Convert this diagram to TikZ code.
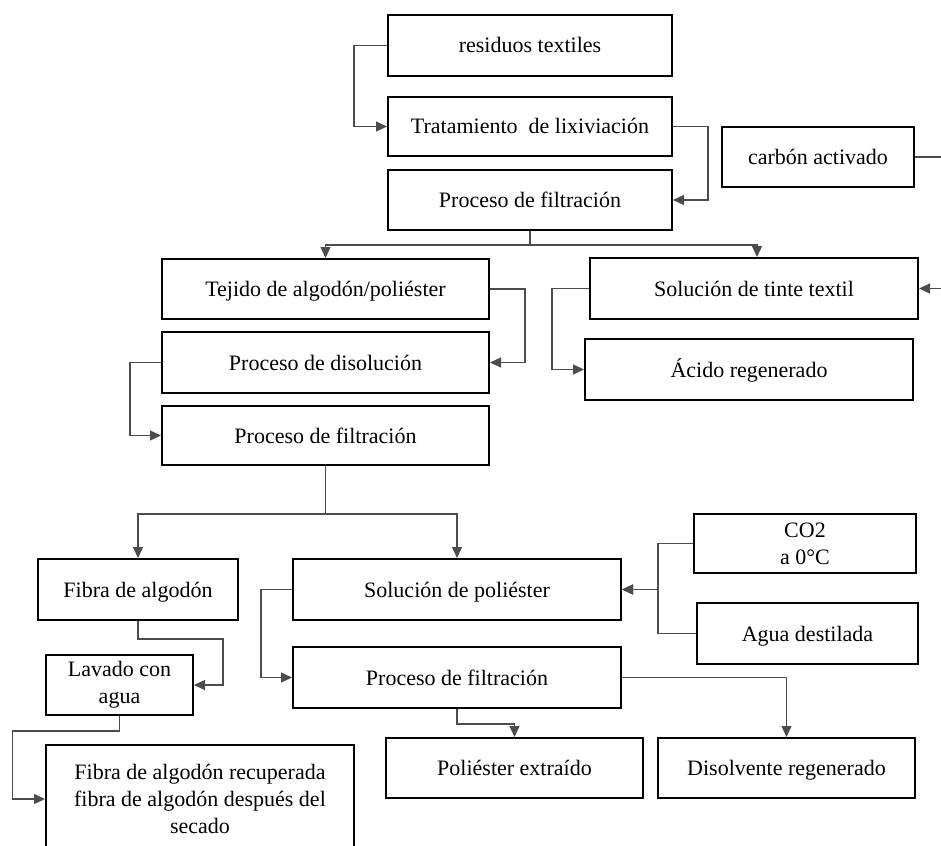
\documentclass[tikz,border=0pt]{standalone}
\usepackage{fontspec}
\setmainfont{Liberation Serif}
\usetikzlibrary{arrows.meta}
\newcommand\bx[7][]{\node[box,#1, minimum width={#5pt-#3pt}, minimum height={#6pt-#4pt}] (#2) at ({(#3+#5)/2},{(#4+#6)/2}) {#7};}
\begin{document}
\begin{tikzpicture}[x=1pt,y=-1pt,
  box/.style={draw=black, line width=2pt, inner sep=0pt, align=center, font=\fontsize{22}{27}\selectfont},
  one/.style={text height=17pt, text depth=2pt},
  conn/.style={draw=black!70, line width=1.3pt},
  arr/.style={conn, -{Triangle[length=11pt,width=10pt]}}]
\clip (0,0) rectangle (941,845);
\fill[white] (0,0) rectangle (941,845);
\bx[one]{res}{388}{15}{672}{76}{residuos textiles}
\bx[one]{trat}{388}{97}{672}{156}{Tratamiento\ \ de lixiviación}
\bx[one]{filA}{388}{170}{672}{230}{Proceso de filtración}
\bx[one]{carb}{722}{127}{914}{187}{carbón activado}
\bx[one]{tej}{162}{259}{489}{319}{Tejido de algodón/poliéster}
\bx[one]{dis}{162}{332}{489}{393}{Proceso de disolución}
\bx[one]{filB}{162}{406}{489}{465}{Proceso de filtración}
\bx[one]{tinte}{590}{258}{918}{319}{Solución de tinte textil}
\bx[one]{acido}{585}{339}{913}{400}{Ácido regenerado}
\bx[one]{fibra}{38}{559}{238}{620}{Fibra de algodón}
\bx{lav}{46}{655}{193}{715}{Lavado con\\agua}
\bx{rec}{46}{745}{354}{853}{Fibra de algodón recuperada\\fibra de algodón después del\\secado}
\bx[one]{solpol}{293}{559}{621}{620}{Solución de poliéster}
\bx[one]{filC}{293}{647}{621}{708}{Proceso de filtración}
\bx[one]{poli}{386}{738}{643}{798}{Poliéster extraído}
\bx[one]{disv}{658}{738}{915}{798}{Disolvente regenerado}
\bx{co}{694}{514}{916}{573}{CO2\\a 0°C}
\bx[one]{agua}{697}{603}{918}{664}{Agua destilada}
% connectors
\draw[arr] (res.west) -- ++(-33,0) |- (trat.west);
\draw[arr] (trat.east) -- ++(35,0) |- (filA.east);
\draw[arr] (filA.south) -- ++(0,14) -| (tej.north);
\draw[arr] (filA.south) -- ++(0,14) -| ([xshift=3pt]tinte.north);
\draw[arr] (tej.east) -- ++(35,0) |- (dis.east);
\draw[arr] (dis.west) -- ++(-31,0) |- (filB.west);
\draw[arr] (tinte.west) -- ++(-37,0) |- (acido.west);
\draw[arr] (carb.east) -- ++(60,0) |- (tinte.east);
\draw[arr] (filB.south) -- ++(0,48) -| (fibra.north);
\draw[arr] (filB.south) -- ++(0,48) -| (solpol.north);
\draw[arr] (fibra.south) -- ++(0,18) -- ++(85,0) |- (lav.east);
\draw[arr] (lav.south) -- ++(0,15) -- ++(-107,0) |- (rec.west);
\draw[arr] (solpol.west) -- ++(-31,0) |- (filC.west);
\draw[arr] (filC.south) -- ++(0,15) -| (poli.north);
\draw[arr] (filC.east) -| (disv.north);
\draw[arr] (co.west) -- ++(-35,0) |- (solpol.east);
\draw[arr] (agua.west) -- ++(-38,0) |- (solpol.east);
\end{tikzpicture}
\end{document}
